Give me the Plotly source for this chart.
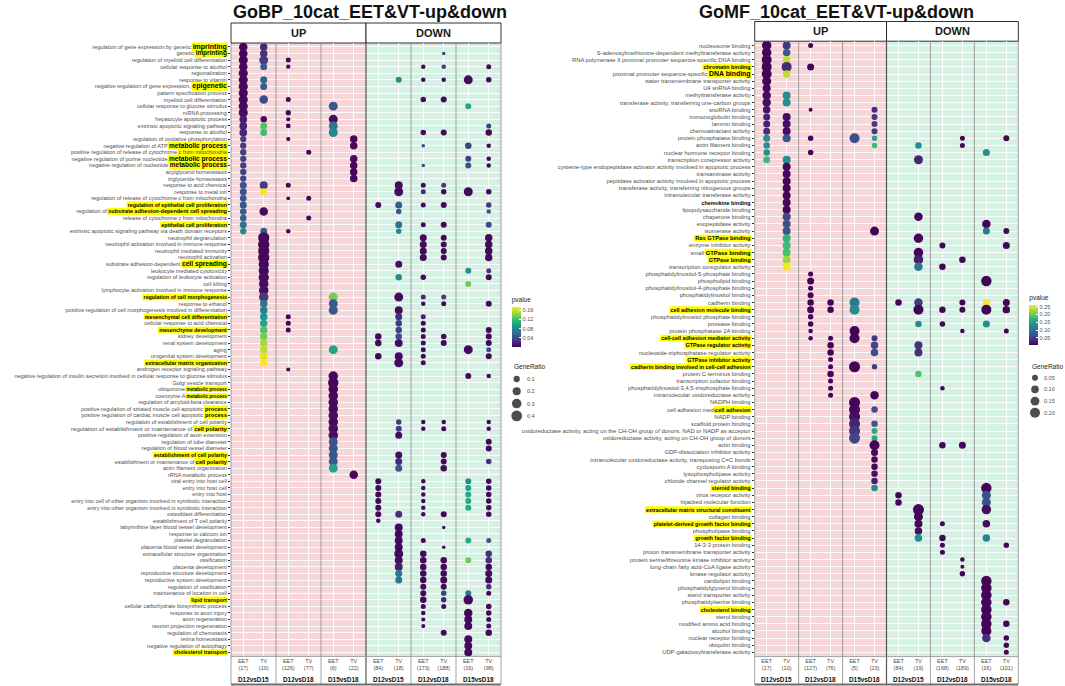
import math
import plotly.graph_objects as go

W, H = 1065, 686
FONT = "Liberation Sans, Arial, Helvetica, sans-serif"

# ---------------- terms (top to bottom) ----------------
BP_TERMS = [
    "regulation of gene expression by genetic imprinting", "genetic imprinting",
    "regulation of myeloid cell differentiation", "cellular response to alcohol", "regionalization",
    "response to vitamin", "negative regulation of gene expression, epigenetic",
    "pattern specification process", "myeloid cell differentiation",
    "cellular response to glucose stimulus", "mRNA processing", "hepatocyte apoptotic process",
    "extrinsic apoptotic signaling pathway", "response to alcohol",
    "regulation of oxidative phosphorylation", "negative regulation of ATP metabolic process",
    "positive regulation of release of cytochrome c from mitochondria",
    "negative regulation of purine nucleotide metabolic process",
    "negative regulation of nucleotide metabolic process", "acylglycerol homeostasis",
    "triglyceride homeostasis", "response to acid chemical", "response to metal ion",
    "regulation of release of cytochrome c from mitochondria",
    "regulation of epithelial cell proliferation",
    "regulation of substrate adhesion-dependent cell spreading",
    "release of cytochrome c from mitochondria", "epithelial cell proliferation",
    "extrinsic apoptotic signaling pathway via death domain receptors", "neutrophil degranulation",
    "neutrophil activation involved in immune response", "neutrophil mediated immunity",
    "neutrophil activation", "substrate adhesion-dependent cell spreading",
    "leukocyte mediated cytotoxicity", "regulation of leukocyte activation", "cell killing",
    "lymphocyte activation involved in immune response", "regulation of cell morphogenesis",
    "response to ethanol", "positive regulation of cell morphogenesis involved in differentiation",
    "mesenchymal cell differentiation", "cellular response to acid chemical",
    "mesenchyme development", "kidney development", "renal system development", "aging",
    "urogenital system development", "extracellular matrix organization",
    "androgen receptor signaling pathway",
    "negative regulation of insulin secretion involved in cellular response to glucose stimulus",
    "Golgi vesicle transport", "ubiquinone metabolic process", "coenzyme A metabolic process",
    "regulation of amyloid-beta clearance",
    "positive regulation of striated muscle cell apoptotic process",
    "positive regulation of cardiac muscle cell apoptotic process",
    "regulation of establishment of cell polarity",
    "regulation of establishment or maintenance of cell polarity",
    "positive regulation of axon extension", "regulation of tube diameter",
    "regulation of blood vessel diameter", "establishment of cell polarity",
    "establishment or maintenance of cell polarity", "actin filament organization",
    "rRNA metabolic process", "viral entry into host cell", "entry into host cell", "entry into host",
    "entry into cell of other organism involved in symbiotic interaction",
    "entry into other organism involved in symbiotic interaction", "osteoblast differentiation",
    "establishment of T cell polarity", "labyrinthine layer blood vessel development",
    "response to calcium ion", "platelet degranulation", "placenta blood vessel development",
    "extracellular structure organization", "ossification", "placenta development",
    "reproductive structure development", "reproductive system development",
    "regulation of ossification", "maintenance of location in cell", "lipid transport",
    "cellular carbohydrate biosynthetic process", "response to axon injury", "axon regeneration",
    "neuron projection regeneration", "regulation of chemotaxis", "retina homeostasis",
    "negative regulation of autophagy", "cholesterol transport",
]

MF_TERMS = [
    "nucleosome binding", "S-adenosylmethionine-dependent methyltransferase activity",
    "RNA polymerase II proximal promoter sequence-specific DNA binding", "chromatin binding",
    "proximal promoter sequence-specific DNA binding", "water transmembrane transporter activity",
    "U4 snRNA binding", "methyltransferase activity",
    "transferase activity, transferring one-carbon groups", "snoRNA binding",
    "immunoglobulin binding", "laminin binding", "chemoattractant activity",
    "protein phosphatase binding", "actin filament binding", "nuclear hormone receptor binding",
    "transcription corepressor activity",
    "cysteine-type endopeptidase activator activity involved in apoptotic process",
    "transaminase activity", "peptidase activator activity involved in apoptotic process",
    "transferase activity, transferring nitrogenous groups", "intramolecular transferase activity",
    "chemokine binding", "lipopolysaccharide binding", "chaperone binding", "exopeptidase activity",
    "isomerase activity", "Ras GTPase binding", "enzyme inhibitor activity", "small GTPase binding",
    "GTPase binding", "transcription coregulator activity",
    "phosphatidylinositol-5-phosphate binding", "phospholipid binding",
    "phosphatidylinositol-4-phosphate binding", "phosphatidylinositol binding", "cadherin binding",
    "cell adhesion molecule binding", "phosphatidylinositol phosphate binding", "protease binding",
    "protein phosphatase 2A binding", "cell-cell adhesion mediator activity",
    "GTPase regulator activity", "nucleoside-triphosphatase regulator activity",
    "GTPase inhibitor activity", "cadherin binding involved in cell-cell adhesion",
    "protein C-terminus binding", "transcription cofactor binding",
    "phosphatidylinositol-3,4,5-trisphosphate binding", "intramolecular oxidoreductase activity",
    "NADPH binding", "cell adhesion mediator activity", "NADP binding", "scaffold protein binding",
    "oxidoreductase activity, acting on the CH-OH group of donors, NAD or NADP as acceptor",
    "oxidoreductase activity, acting on CH-OH group of donors", "actin binding",
    "GDP-dissociation inhibitor activity",
    "intramolecular oxidoreductase activity, transposing C=C bonds", "cyclosporin A binding",
    "lysophospholipase activity", "chloride channel regulator activity", "steroid binding",
    "virus receptor activity", "hijacked molecular function",
    "extracellular matrix structural constituent", "collagen binding",
    "platelet-derived growth factor binding", "phospholipase binding", "growth factor binding",
    "14-3-3 protein binding", "proton transmembrane transporter activity",
    "protein serine/threonine kinase inhibitor activity", "long-chain fatty acid-CoA ligase activity",
    "kinase regulator activity", "cardiolipin binding", "phosphatidylglycerol binding",
    "sterol transporter activity", "phosphatidylserine binding", "cholesterol binding",
    "sterol binding", "modified amino acid binding", "alcohol binding", "nuclear receptor binding",
    "ubiquitin binding", "UDP-galactosyltransferase activity",
]

CONTRASTS = ["D12vsD15", "D12vsD18", "D15vsD18"]
BP_N_UP = [(17, 10), (126, 77), (6, 22)]
BP_N_DOWN = [(84, 18), (173, 188), (16, 98)]
MF_N_UP = [(17, 10), (127, 76), (5, 23)]
MF_N_DOWN = [(84, 19), (168, 189), (16, 101)]

# ---------------- dots: (row, pvalue, GeneRatio) ----------------
bp_up_1215_eet = [
    (1, .003, .235), (2, .003, .235), (3, .003, .27), (4, .004, .235), (5, .004, .27),
    (6, .004, .27), (7, .004, .27), (8, .005, .27), (9, .005, .27), (10, .006, .27),
    (11, .007, .27), (12, .014, .176), (13, .016, .176), (14, .018, .176), (15, .032, .1),
    (16, .032, .1), (17, .033, .1), (18, .034, .1), (19, .034, .1), (20, .035, .1),
    (21, .036, .1), (22, .045, .135), (23, .046, .135), (24, .046, .118), (25, .048, .135),
    (26, .05, .118), (27, .054, .118), (28, .064, .135), (29, .082, .1),
]
bp_up_1215_tv = [
    (1, .02, .16), (2, .025, .16), (3, .03, .26), (4, .05, .135), (6, .055, .135),
    (7, .05, .135), (9, .04, .225), (12, .006, .11), (13, .125, .135), (14, .12, .135),
    (22, .03, .19), (23, .17, .135), (26, .006, .225), (29, .05, .135),
    (30, .004, .45), (31, .004, .45), (32, .004, .45), (33, .004, .45), (34, .005, .36),
    (35, .006, .36), (36, .006, .36), (37, .007, .3), (38, .008, .3), (39, .03, .3),
    (40, .07, .16), (41, .075, .16), (42, .09, .16), (43, .1, .16), (44, .125, .16),
    (45, .135, .16), (46, .15, .16), (47, .155, .16), (48, .165, .16), (49, .172, .16),
]
bp_up_1218_eet = [
    (3, .004, .05), (4, .004, .03), (9, .004, .05), (11, .004, .06), (12, .004, .025),
    (13, .004, .045), (15, .004, .03), (22, .004, .05), (24, .004, .02), (29, .004, .035),
    (42, .004, .05), (43, .004, .05), (44, .004, .05), (50, .004, .025),
]
bp_up_1218_tv = [(17, .004, .05), (24, .004, .05), (27, .004, .05)]
bp_up_1518_eet = [
    (10, .048, .26), (12, .006, .26), (13, .07, .26), (14, .08, .26), (39, .135, .26),
    (40, .05, .26), (41, .048, .26), (47, .1, .26), (51, .004, .3), (52, .004, .38),
    (53, .004, .3), (54, .004, .3), (55, .005, .3), (56, .005, .3), (57, .006, .3),
    (58, .006, .3), (59, .007, .3), (60, .008, .3), (61, .045, .26), (62, .045, .26),
    (63, .048, .26), (64, .05, .26), (65, .1, .26),
]
bp_up_1518_tv = [
    (15, .004, .16), (16, .004, .16), (18, .004, .16), (19, .004, .16), (20, .004, .16),
    (21, .004, .16), (66, .004, .225),
]
bp_dn_1215_eet = [
    (25, .004, .087), (45, .004, .11), (46, .004, .11), (48, .004, .11), (67, .004, .087),
    (68, .004, .087), (69, .004, .087), (70, .004, .087), (71, .004, .087), (72, .004, .087),
    (73, .004, .035),
]
bp_dn_1215_tv = [
    (6, .087, .087), (22, .006, .19), (23, .006, .26), (25, .05, .135), (26, .05, .067),
    (28, .07, .135), (29, .08, .067), (34, .006, .135), (36, .085, .11), (39, .006, .26),
    (41, .006, .19), (42, .025, .135), (43, .03, .11), (44, .035, .11), (45, .04, .11),
    (46, .006, .19), (48, .006, .19), (49, .006, .26), (58, .03, .067), (59, .03, .087),
    (60, .006, .135), (63, .006, .135), (64, .02, .135), (65, .048, .135), (72, .025, .135),
    (74, .004, .19), (75, .004, .19), (76, .004, .19), (77, .004, .19), (78, .004, .26),
    (79, .008, .19), (80, .015, .19), (81, .07, .135), (82, .07, .135),
]
bp_dn_1218_eet = [
    (4, .004, .035), (6, .004, .035), (9, .004, .067), (14, .004, .067), (16, .035, .013),
    (19, .035, .013), (22, .004, .05), (23, .02, .05), (25, .004, .05), (28, .004, .05),
    (30, .004, .135), (31, .004, .135), (32, .004, .135), (33, .004, .135), (36, .004, .067),
    (39, .02, .05), (40, .004, .035), (42, .015, .05), (43, .004, .05), (44, .004, .05),
    (45, .004, .05), (46, .004, .05), (47, .004, .05), (48, .004, .05), (49, .004, .05),
    (58, .004, .035), (59, .004, .035), (67, .004, .035), (68, .004, .035), (69, .004, .035),
    (70, .004, .035), (71, .004, .035), (72, .004, .035), (76, .004, .05), (78, .004, .11),
    (79, .004, .11), (80, .004, .11), (81, .004, .11), (82, .004, .11), (83, .004, .087),
    (84, .004, .087), (85, .004, .11), (86, .004, .05), (87, .004, .035), (88, .004, .025),
    (89, .004, .025),
]
bp_dn_1218_tv = [
    (2, .035, .013), (4, .03, .035), (6, .004, .035), (9, .004, .087), (14, .004, .087),
    (22, .03, .05), (23, .006, .067), (25, .004, .087), (28, .004, .087), (30, .004, .087),
    (31, .004, .087), (32, .004, .087), (33, .004, .087), (39, .03, .05), (40, .004, .05),
    (45, .004, .067), (46, .004, .087), (58, .004, .035), (59, .004, .05), (63, .004, .087),
    (64, .004, .087), (65, .004, .11), (72, .004, .087), (74, .004, .013), (77, .004, .013),
    (79, .004, .11), (80, .004, .11), (81, .004, .11), (82, .004, .135), (83, .004, .087),
    (84, .035, .067), (85, .02, .067), (86, .004, .05), (90, .004, .087),
]
bp_dn_1518_eet = [
    (6, .004, .26), (10, .104, .087), (16, .035, .11), (18, .035, .087), (19, .045, .087),
    (23, .004, .26), (35, .087, .087), (37, .135, .087), (47, .004, .26), (51, .004, .087),
    (67, .087, .087), (68, .1, .087), (69, .104, .087), (70, .104, .087), (71, .104, .087),
    (76, .104, .087), (79, .135, .087), (84, .07, .087), (85, .004, .3), (87, .004, .225),
    (88, .004, .19), (89, .004, .19), (91, .004, .19), (92, .004, .19), (93, .004, .19),
]
bp_dn_1518_tv = [
    (4, .004, .05), (6, .004, .067), (13, .035, .05), (14, .004, .11), (16, .004, .035),
    (18, .004, .035), (19, .004, .035), (23, .004, .067), (25, .03, .067), (26, .045, .035),
    (28, .04, .087), (30, .004, .16), (31, .004, .16), (32, .004, .16), (33, .004, .16),
    (35, .03, .05), (36, .004, .087), (40, .004, .087), (44, .004, .087), (45, .004, .087),
    (46, .004, .087), (47, .045, .05), (48, .004, .087), (51, .004, .035), (58, .004, .035),
    (59, .004, .035), (61, .004, .087), (62, .004, .087), (64, .025, .067), (67, .004, .067),
    (68, .004, .067), (69, .004, .067), (70, .004, .067), (71, .004, .067), (72, .004, .067),
    (76, .045, .05), (78, .025, .11), (79, .025, .11), (80, .004, .11), (81, .004, .135),
    (82, .004, .135), (83, .025, .067), (84, .004, .05), (86, .004, .067), (87, .004, .067),
    (88, .004, .05), (89, .004, .05), (90, .004, .11),
]

mf_up_1215_eet = [
    (1, .008, .176), (2, .008, .176), (3, .008, .2), (4, .008, .2), (5, .008, .2),
    (6, .008, .153), (7, .01, .112), (8, .015, .132), (9, .015, .132), (10, .02, .094),
    (11, .03, .078), (12, .03, .078), (13, .035, .078), (14, .13, .078), (15, .13, .063),
    (16, .135, .063), (17, .18, .078),
]
mf_up_1215_tv = [
    (1, .045, .112), (2, .075, .094), (3, .235, .094), (4, .035, .2), (5, .235, .094),
    (8, .13, .112), (9, .13, .112), (11, .015, .112), (12, .015, .112), (13, .015, .112),
    (14, .075, .112), (17, .13, .112), (18, .008, .112), (19, .008, .112), (20, .008, .112),
    (21, .008, .112), (22, .008, .112), (23, .008, .112), (24, .008, .112), (25, .06, .112),
    (26, .07, .112), (27, .072, .112), (28, .17, .112), (29, .18, .112), (30, .185, .112),
    (31, .22, .112), (32, .258, .112),
]
mf_up_1218_eet = [
    (1, .008, .028), (4, .008, .078), (10, .008, .0125), (14, .008, .038), (16, .008, .038),
    (33, .008, .028), (34, .008, .078), (35, .008, .028), (36, .008, .05), (37, .008, .063),
    (38, .008, .078), (39, .008, .038), (40, .008, .038), (41, .008, .02), (42, .008, .02),
]
mf_up_1218_tv = [
    (37, .008, .063), (38, .008, .063), (42, .008, .028), (43, .008, .063), (44, .008, .063),
    (45, .008, .028), (46, .008, .028), (47, .008, .063), (48, .008, .028), (49, .008, .028),
    (50, .008, .028),
]
mf_up_1518_eet = [
    (14, .07, .2), (37, .11, .2), (38, .13, .2), (41, .008, .2), (42, .008, .2),
    (46, .008, .253), (51, .008, .253), (52, .01, .253), (53, .015, .253), (54, .03, .253),
    (55, .045, .253), (56, .06, .253),
]
mf_up_1518_tv = [
    (10, .035, .05), (11, .045, .05), (12, .05, .05), (13, .05, .05), (14, .158, .038),
    (15, .18, .038), (27, .008, .153), (42, .045, .05), (43, .06, .094), (44, .065, .094),
    (46, .05, .038), (50, .008, .132), (52, .065, .063), (54, .075, .063), (55, .16, .05),
    (56, .16, .05), (57, .008, .2), (58, .01, .078), (59, .01, .063), (60, .01, .063),
    (61, .015, .063), (62, .025, .063), (63, .125, .063),
]
mf_dn_1215_eet = [(37, .008, .063), (64, .008, .063), (65, .008, .063)]
mf_dn_1215_tv = [
    (15, .13, .063), (17, .03, .153), (25, .008, .132), (28, .008, .176), (30, .008, .176),
    (31, .025, .176), (32, .107, .132), (37, .05, .132), (38, .008, .2), (40, .13, .063),
    (43, .04, .112), (44, .04, .112), (47, .19, .063), (66, .008, .253), (67, .008, .153),
    (68, .01, .112), (69, .015, .094), (70, .13, .094),
]
mf_dn_1218_eet = [
    (29, .008, .05), (32, .008, .063), (38, .008, .063), (40, .008, .038), (49, .008, .02),
    (57, .008, .063), (68, .008, .028), (70, .008, .063), (71, .008, .028), (72, .008, .028),
]
mf_dn_1218_tv = [
    (14, .008, .028), (15, .008, .028), (31, .008, .063), (37, .008, .05), (38, .008, .05),
    (41, .008, .02), (57, .008, .078), (73, .008, .02), (74, .008, .0125), (75, .008, .038),
]
mf_dn_1518_eet = [
    (16, .13, .078), (26, .008, .132), (27, .107, .078), (34, .008, .225), (37, .258, .078),
    (38, .008, .2), (40, .13, .078), (63, .008, .225), (64, .07, .153), (65, .07, .153),
    (66, .015, .176), (68, .015, .094), (70, .12, .094), (76, .008, .225), (77, .008, .225),
    (78, .008, .225), (79, .008, .225), (80, .008, .225), (81, .008, .225), (82, .008, .225),
    (83, .008, .2), (84, .04, .132),
]
mf_dn_1518_tv = [
    (14, .008, .05), (27, .008, .05), (29, .008, .078), (37, .008, .078), (38, .008, .094),
    (41, .008, .028), (71, .008, .038), (79, .008, .063), (82, .008, .063), (84, .008, .038),
    (85, .008, .038), (86, .008, .028),
]

BP_COLUMNS = [bp_up_1215_eet, bp_up_1215_tv, bp_up_1218_eet, bp_up_1218_tv, bp_up_1518_eet,
              bp_up_1518_tv, bp_dn_1215_eet, bp_dn_1215_tv, bp_dn_1218_eet, bp_dn_1218_tv,
              bp_dn_1518_eet, bp_dn_1518_tv]
MF_COLUMNS = [mf_up_1215_eet, mf_up_1215_tv, mf_up_1218_eet, mf_up_1218_tv, mf_up_1518_eet,
              mf_up_1518_tv, mf_dn_1215_eet, mf_dn_1215_tv, mf_dn_1218_eet, mf_dn_1218_tv,
              mf_dn_1518_eet, mf_dn_1518_tv]

# highlighted label parts: row -> (text, font size, bold, yellow)
BP_MARKS = {
    1: ("imprinting", 7.0, True, True), 2: ("imprinting", 6.4, True, True),
    7: ("epigenetic", 7.0, True, True), 16: ("metabolic process", 6.6, True, True),
    17: ("c from mitochondria", 5.5, False, True), 18: ("metabolic process", 6.6, True, True),
    19: ("metabolic process", 6.5, True, True),
    25: ("regulation of epithelial cell proliferation", 5.3, True, True),
    26: ("substrate adhesion-dependent cell spreading", 5.5, True, True),
    28: ("epithelial cell proliferation", 5.3, True, True), 34: ("cell spreading", 6.7, True, True),
    39: ("regulation of cell morphogenesis", 5.3, True, True),
    42: ("mesenchymal cell differentiation", 5.3, True, True),
    44: ("mesenchyme development", 5.3, True, True),
    49: ("extracellular matrix organization", 5.3, True, True),
    53: ("metabolic process", 4.6, True, True), 54: ("metabolic process", 4.6, True, True),
    56: ("process", 5.7, True, True), 57: ("process", 5.7, True, True),
    59: ("cell polarity", 5.9, True, True),
    63: ("establishment of cell polarity", 5.3, True, True), 64: ("cell polarity", 5.6, True, True),
    85: ("lipid transport", 5.3, True, True), 93: ("cholesterol transport", 5.3, True, True),
}
MF_MARKS = {
    4: ("chromatin binding", 5.4, True, True), 5: ("DNA binding", 6.9, True, True),
    23: ("chemokine binding", 5.4, True, False), 28: ("Ras GTPase binding", 5.7, True, True),
    30: ("GTPase binding", 5.9, True, True), 31: ("GTPase binding", 5.5, True, True),
    38: ("cell adhesion molecule binding", 5.4, True, True),
    42: ("cell-cell adhesion mediator activity", 5.4, True, True),
    43: ("GTPase regulator activity", 5.4, True, True),
    45: ("GTPase inhibitor activity", 5.4, True, True),
    46: ("cadherin binding involved in cell-cell adhesion", 5.4, True, True),
    52: ("cell adhesion", 5.6, True, True), 63: ("steroid binding", 5.4, True, True),
    66: ("extracellular matrix structural constituent", 5.3, True, True),
    68: ("platelet-derived growth factor binding", 5.4, True, True),
    70: ("growth factor binding", 5.4, True, True), 80: ("cholesterol binding", 5.4, True, True),
}

BP_SIZE_BREAKS = [0.1, 0.2, 0.3, 0.4]
MF_SIZE_BREAKS = [0.05, 0.10, 0.15, 0.20]

# Helvetica-like advance widths (per 1000 em)
REG_W = dict(zip("abcdefghijklmnopqrstuvwxyz", [556, 556, 500, 556, 556, 278, 556, 556, 222, 222, 500, 222, 833, 556, 556, 556, 556, 333, 500, 278, 556, 500, 722, 500, 500, 500]))
BOLD_W = dict(zip("abcdefghijklmnopqrstuvwxyz", [556, 611, 556, 611, 556, 333, 611, 611, 278, 278, 556, 278, 889, 611, 611, 611, 611, 389, 556, 333, 611, 556, 778, 556, 556, 500]))
BOLD_W.update({" ": 278, "-": 333, "A": 722, "D": 722, "N": 722, "G": 778, "T": 611, "P": 667, "R": 722})
REG_W.update({" ": 278, "-": 333})


def text_width(s, fs, bold):
    table = BOLD_W if bold else REG_W
    return sum(table.get(ch, 600) for ch in s) / 1000.0 * fs


def bp_size(r):
    return 1.9 + 13.9 * math.sqrt(r)


def mf_size(r):
    return 2.0 + 17.9 * math.sqrt(r)


# panel geometry in pixels
PANELS = [
    dict(terms=BP_TERMS, cols=BP_COLUMNS, marks=BP_MARKS, n_up=BP_N_UP, n_dn=BP_N_DOWN,
         x0=231, x1=501, y0=43, y1=656.4, strip_top=23, fs=5.5, size=bp_size,
         title="GoBP_10cat_EET&amp;VT-up&amp;down", title_x=370, ax="", coloraxis="coloraxis"),
    dict(terms=MF_TERMS, cols=MF_COLUMNS, marks=MF_MARKS, n_up=MF_N_UP, n_dn=MF_N_DOWN,
         x0=754.7, x1=1018.3, y0=41.2, y1=656.6, strip_top=21.5, fs=5.8, size=mf_size,
         title="GoMF_10cat_EET&amp;VT-up&amp;down", title_x=836, ax="2", coloraxis="coloraxis2"),
]

XMAX = 13.2
FACET_EDGES = [0, 2.2, 4.4, 6.6, 8.8, 11.0, 13.2]


def xp(px):
    return px / W


def yp(py):
    return 1 - py / H


def label(x, y, text, size, color="#111111", xanchor="center"):
    return dict(x=xp(x), y=yp(y), xref="paper", yref="paper", text=text, showarrow=False,
                xanchor=xanchor, yanchor="middle", font=dict(size=size, color=color, family=FONT))


fig = go.Figure()
shapes, annotations = [], []
layout = {}

for pi, P in enumerate(PANELS):
    n = len(P["terms"])
    xs, ys, cs, ss = [], [], [], []
    for ci, col in enumerate(P["cols"]):
        xpos = 2.2 * (ci // 2) + 0.6 + (ci % 2)
        for row, pv, gr in col:
            xs.append(xpos)
            ys.append(row)
            cs.append(pv)
            ss.append(P["size"](gr))
    fig.add_trace(go.Scatter(
        x=xs, y=ys, mode="markers", xaxis="x" + P["ax"], yaxis="y" + P["ax"],
        marker=dict(size=ss, color=cs, coloraxis=P["coloraxis"], line=dict(width=0), opacity=1),
        showlegend=False, hoverinfo="skip"))

    # tick labels
    ticktext = []
    for i, term in enumerate(P["terms"], start=1):
        m = P["marks"].get(i)
        if m and m[2]:
            part, fs, _, _ = m
            prefix = term[: len(term) - len(part)]
            if i == 59 and pi == 0:
                prefix = f"<span style='font-size:6.0px'>{prefix}</span>"
            ticktext.append(f"{prefix}<b><span style='font-size:{fs}px;color:#000000'>{part}</span></b>")
        else:
            ticktext.append(term)

    tickvals_x, ticktext_x = [], []
    for k, (ne, nt) in enumerate(P["n_up"] + P["n_dn"]):
        tickvals_x += [2.2 * k + 0.6, 2.2 * k + 1.6]
        ticktext_x += [f"EET<br>({ne})", f"TV<br>({nt})"]

    layout["xaxis" + P["ax"]] = dict(
        domain=[xp(P["x0"]), xp(P["x1"])], range=[0, XMAX], anchor="y" + P["ax"],
        tickmode="array", tickvals=tickvals_x, ticktext=ticktext_x, ticks="",
        tickfont=dict(size=5.5, color="#4d4d4d"), showgrid=True, gridcolor="rgba(255,255,255,0.9)",
        gridwidth=0.7, zeroline=False, showline=False, fixedrange=True)
    layout["yaxis" + P["ax"]] = dict(
        domain=[yp(P["y1"]), yp(P["y0"])], range=[n + 0.6, 0.4], anchor="x" + P["ax"],
        tickmode="array", tickvals=list(range(1, n + 1)), ticktext=ticktext, ticks="outside",
        ticklen=2, tickwidth=0.5, tickcolor="#333333",
        tickfont=dict(size=P["fs"], color="#4d4d4d", family=FONT), showgrid=True,
        gridcolor="rgba(255,255,255,0.9)", gridwidth=0.5, zeroline=False, showline=False,
        fixedrange=True)

    x0, x1, y0, y1 = P["x0"], P["x1"], P["y0"], P["y1"]
    mid = (x0 + x1) / 2
    rowpx = (y1 - y0) / (n + 0.2)

    # panel backgrounds
    shapes.append(dict(type="rect", xref="paper", yref="paper", x0=xp(x0), x1=xp(mid),
                       y0=yp(y1), y1=yp(y0), fillcolor="#F6D6D9", line=dict(width=0), layer="below"))
    shapes.append(dict(type="rect", xref="paper", yref="paper", x0=xp(mid), x1=xp(x1),
                       y0=yp(y1), y1=yp(y0), fillcolor="#D6F0E3", line=dict(width=0), layer="below"))
    # facet borders (solid, on top of the white grid)
    for e in FACET_EDGES:
        ex = x0 + e / XMAX * (x1 - x0)
        dark = e == 6.6
        shapes.append(dict(type="line", xref="paper", yref="paper", x0=xp(ex), x1=xp(ex),
                           y0=yp(684), y1=yp(y0),
                           line=dict(color="#555555" if dark else "#8c8c8c", width=1.2 if dark else 0.8),
                           layer="above"))
    shapes.append(dict(type="line", xref="paper", yref="paper", x0=xp(x0), x1=xp(x1),
                       y0=yp(y1), y1=yp(y1), line=dict(color="#8c8c8c", width=0.8), layer="above"))
    shapes.append(dict(type="line", xref="paper", yref="paper", x0=xp(x0), x1=xp(x1),
                       y0=yp(684.5), y1=yp(684.5), line=dict(color="#6e6e6e", width=2.2), layer="above"))
    # top strips
    for sx0, sx1, lab in [(x0, mid, "UP"), (mid, x1, "DOWN")]:
        shapes.append(dict(type="rect", xref="paper", yref="paper", x0=xp(sx0), x1=xp(sx1),
                           y0=yp(y0), y1=yp(P["strip_top"]), fillcolor="white",
                           line=dict(color="#1a1a1a", width=0.9), layer="below"))
        annotations.append(label((sx0 + sx1) / 2, (y0 + P["strip_top"]) / 2, f"<b>{lab}</b>", 11,
                                 "#1a1a1a"))
    # bottom facet labels
    for k in range(6):
        cx = x0 + (2.2 * k + 1.1) / XMAX * (x1 - x0)
        annotations.append(label(cx, 679, f"<b>{CONTRASTS[k % 3]}</b>", 6.4))
    # title
    annotations.append(label(P["title_x"], 12, f"<b>{P['title']}</b>", 18))
    # yellow highlights behind label parts
    label_right = x0 - 4.2
    for row, (part, fs, bold, yellow) in P["marks"].items():
        if not yellow:
            continue
        wpx = text_width(part, fs, bold)
        cy = y0 + (row - 0.4) * rowpx
        hh = fs * 0.62
        shapes.append(dict(type="rect", xref="paper", yref="paper", x0=xp(label_right - wpx - 1),
                           x1=xp(label_right + 1.2), y0=yp(cy + hh), y1=yp(cy - hh),
                           fillcolor="#FFFF00", line=dict(width=0), layer="below"))

# colour bars
layout["coloraxis"] = dict(
    colorscale="Viridis", cmin=0.0005, cmax=0.173,
    colorbar=dict(x=xp(511.7), xanchor="left", xpad=0, y=yp(294), yanchor="top", ypad=0,
                  len=53, lenmode="pixels", thickness=8.5, thicknessmode="pixels", outlinewidth=0,
                  tickvals=[0.04, 0.08, 0.12, 0.16], ticktext=["0.04", "0.08", "0.12", "0.16"],
                  ticks="inside", tickcolor="white", ticklen=2,
                  tickfont=dict(size=5.5, color="#4d4d4d", family=FONT),
                  title=dict(text="pvalue", side="top", font=dict(size=6.5, color="#222222", family=FONT))))
layout["coloraxis2"] = dict(
    colorscale="Viridis", cmin=0.005, cmax=0.26,
    colorbar=dict(x=xp(1029.3), xanchor="left", xpad=0, y=yp(292), yanchor="top", ypad=0,
                  len=53, lenmode="pixels", thickness=9, thicknessmode="pixels", outlinewidth=0,
                  tickvals=[0.05, 0.10, 0.15, 0.20, 0.25],
                  ticktext=["0.05", "0.10", "0.15", "0.20", "0.25"],
                  ticks="inside", tickcolor="white", ticklen=2,
                  tickfont=dict(size=5.5, color="#4d4d4d", family=FONT),
                  title=dict(text="pvalue", side="top", font=dict(size=6.5, color="#222222", family=FONT))))

# size legends drawn on a pixel-space overlay axis
layout["xaxis3"] = dict(domain=[0, 1], range=[0, W], visible=False, anchor="y3", fixedrange=True)
layout["yaxis3"] = dict(domain=[0, 1], range=[H, 0], visible=False, anchor="x3", fixedrange=True)
for breaks, sizefn, cx, ty, y_first, dy, lab_x, fmt in [
    (BP_SIZE_BREAKS, bp_size, 516.7, 366.7, 379, 12.3, 525, "{:.1f}"),
    (MF_SIZE_BREAKS, mf_size, 1035, 366, 377.7, 11.7, 1042, "{:.2f}"),
]:
    ys = [y_first + i * dy for i in range(len(breaks))]
    fig.add_trace(go.Scatter(
        x=[cx] * len(breaks), y=ys, mode="markers", xaxis="x3", yaxis="y3",
        marker=dict(size=[sizefn(b) for b in breaks], color="black", line=dict(width=0)),
        showlegend=False, hoverinfo="skip"))
    annotations.append(label(cx - 5, ty, "GeneRatio", 6.5, "#222222", "left"))
    for b, yy in zip(breaks, ys):
        annotations.append(label(lab_x, yy, fmt.format(b), 5.5, "#4d4d4d", "left"))

fig.update_layout(
    width=W, height=H, margin=dict(l=0, r=0, t=0, b=0),
    paper_bgcolor="white", plot_bgcolor="rgba(0,0,0,0)",
    font=dict(family=FONT, color="#4d4d4d"),
    shapes=shapes, annotations=annotations, showlegend=False, **layout)

# the page's default body margin would shift the figure by 8px
fig.write_html("out.html", config={"displayModeBar": False},
               post_script="document.body.style.margin='0px';")
